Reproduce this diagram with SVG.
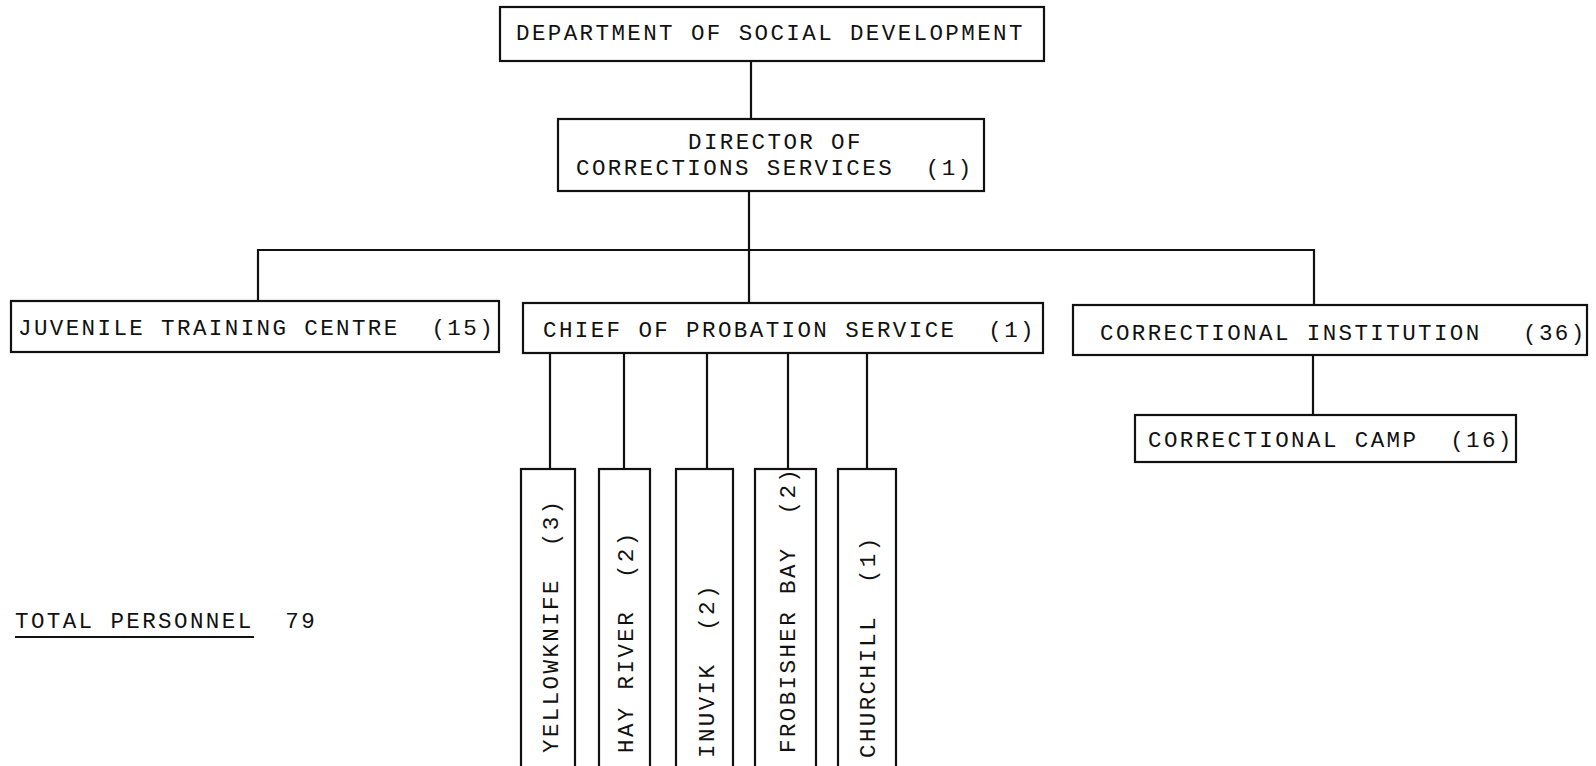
<svg xmlns="http://www.w3.org/2000/svg" width="1596" height="766" viewBox="0 0 1596 766">
<style>
.box{fill:#fff;stroke:#111;stroke-width:2.2}
.ln{stroke:#111;stroke-width:2.2;fill:none}
text{font-family:"Liberation Mono","DejaVu Sans Mono",monospace;font-size:22.5px;letter-spacing:2.4px;fill:#111;white-space:pre}
</style>
<rect width="1596" height="766" fill="#fff"/>
<g id="connectors">
<path class="ln" d="M751 61V119"/>
<path class="ln" d="M749 191V303"/>
<path class="ln" d="M258 301V250H1314V305"/>
<path class="ln" d="M1313 355V415"/>
<path class="ln" d="M550 353V469M624 353V469M707 353V469M788 353V469M867 353V469"/>
</g>
<g id="dept"><rect class="box" x="500" y="7" width="544" height="54"/><text x="516" y="40" xml:space="preserve">DEPARTMENT OF SOCIAL DEVELOPMENT</text></g>
<g id="director"><rect class="box" x="558" y="119" width="426" height="72"/><text x="688" y="149" xml:space="preserve">DIRECTOR OF</text><text x="576" y="175" xml:space="preserve">CORRECTIONS SERVICES  (1)</text></g>
<g id="jtc"><rect class="box" x="11" y="301" width="488" height="51"/><text x="18" y="335" xml:space="preserve">JUVENILE TRAINING CENTRE  (15)</text></g>
<g id="cps"><rect class="box" x="523" y="303" width="520" height="50"/><text x="543" y="337" xml:space="preserve">CHIEF OF PROBATION SERVICE  (1)</text></g>
<g id="ci"><rect class="box" x="1073" y="305" width="514" height="50"/><text x="1100" y="340" xml:space="preserve">CORRECTIONAL INSTITUTION<tspan x="1523">(36)</tspan></text></g>
<g id="camp"><rect class="box" x="1135" y="415" width="381" height="47"/><text x="1148" y="447" xml:space="preserve">CORRECTIONAL CAMP  (16)</text></g>
<g id="yellowknife"><rect class="box" x="521" y="469" width="54" height="305"/><text transform="translate(558,753) rotate(-90)" xml:space="preserve">YELLOWKNIFE  (3)</text></g>
<g id="hayriver"><rect class="box" x="599" y="469" width="51" height="305"/><text transform="translate(633,753) rotate(-90)" xml:space="preserve">HAY RIVER  (2)</text></g>
<g id="inuvik"><rect class="box" x="676" y="469" width="57" height="305"/><text transform="translate(714,758) rotate(-90)" xml:space="preserve">INUVIK  (2)</text></g>
<g id="frobisher"><rect class="box" x="755" y="469" width="61" height="305"/><text transform="translate(795,753) rotate(-90)" xml:space="preserve">FROBISHER BAY  (2)</text></g>
<g id="churchill"><rect class="box" x="838" y="469" width="58" height="305"/><text transform="translate(875,758) rotate(-90)" xml:space="preserve">CHURCHILL  (1)</text></g>
<g id="total"><text x="15" y="628" xml:space="preserve">TOTAL PERSONNEL  79</text><path class="ln" d="M15 637H254"/></g>
</svg>
